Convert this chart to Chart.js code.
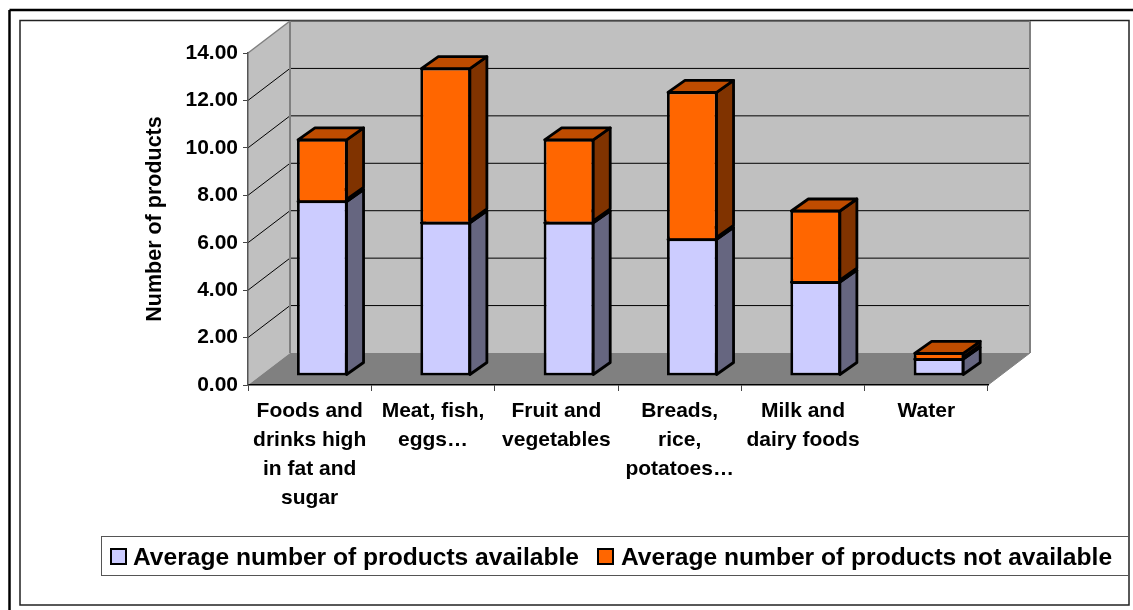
<!DOCTYPE html>
<html>
<head>
<meta charset="utf-8">
<title>Number of products</title>
<script src="https://cdn.jsdelivr.net/npm/chart.js@4/dist/chart.umd.js"></script>
<style>
  html, body { margin: 0; padding: 0; background: #fff; }
  canvas { display: block; }
</style>
</head>
<body>
<canvas id="chart" width="1133" height="610"></canvas>
<script>
// data
const categories = [
    ['Foods and', 'drinks high', 'in fat and', 'sugar'],
    ['Meat, fish,', 'eggs…'],
    ['Fruit and', 'vegetables'],
    ['Breads,', 'rice,', 'potatoes…'],
    ['Milk and', 'dairy foods'],
    ['Water']
];
const available = [7.4, 6.5, 6.5, 5.8, 4, 0.75];
const notAvailable = [2.6, 6.5, 3.5, 6.2, 3, 0.25];
const availableLabel = 'Average number of products available';
const notAvailableLabel = 'Average number of products not available';
const yTitle = 'Number of products';

const FONT = '"Liberation Sans", Arial, sans-serif';

// fake 3D: offsets in pixels
const wall = {dx: 42, dy: -32};
const shift = {dx: 12.6, dy: -9};
const depth = {dx: 17, dy: -12};

function poly(ctx, pts, fill, stroke, lw) {
    ctx.beginPath();
    pts.forEach((p, i) => i ? ctx.lineTo(p[0], p[1]) : ctx.moveTo(p[0], p[1]));
    ctx.closePath();
    if (fill) { ctx.fillStyle = fill; ctx.fill(); }
    if (stroke) { ctx.strokeStyle = stroke; ctx.lineWidth = lw; ctx.stroke(); }
}

function line(ctx, x1, y1, x2, y2, color, lw) {
    ctx.beginPath();
    ctx.moveTo(x1, y1);
    ctx.lineTo(x2, y2);
    ctx.strokeStyle = color;
    ctx.lineWidth = lw;
    ctx.stroke();
}

// frames, walls, floor and gridlines
const backdrop = {
    id: 'backdrop',
    beforeDraw(chart) {
        const ctx = chart.ctx;
        const y = chart.scales.y;
        const a = chart.chartArea;
        const y0 = y.getPixelForValue(0);
        const yMax = y.getPixelForValue(14);
        ctx.save();
        ctx.fillStyle = '#fff';
        ctx.fillRect(0, 0, chart.width, chart.height);

        // outer and inner frame
        line(ctx, 9.5, 10, 1133, 10, '#000', 2.5);
        line(ctx, 9.5, 10, 9.5, 610, '#000', 2.5);
        ctx.strokeStyle = '#222';
        ctx.lineWidth = 1.5;
        ctx.strokeRect(20, 20.5, 1109, 584.5);

        // back wall, left wall, floor
        poly(ctx, [[a.left + wall.dx, yMax + wall.dy], [a.right + wall.dx, yMax + wall.dy],
            [a.right + wall.dx, y0 + wall.dy], [a.left + wall.dx, y0 + wall.dy]], '#c0c0c0');
        poly(ctx, [[a.left, yMax], [a.left + wall.dx, yMax + wall.dy],
            [a.left + wall.dx, y0 + wall.dy], [a.left, y0]], '#c0c0c0');
        poly(ctx, [[a.left, y0], [a.left + wall.dx, y0 + wall.dy],
            [a.right + wall.dx, y0 + wall.dy], [a.right, y0]], '#808080');

        // gridlines, back wall and left wall
        y.ticks.forEach(t => {
            if (t.value === 0 || t.value === 14) return;
            const py = y.getPixelForValue(t.value);
            line(ctx, a.left, py, a.left + wall.dx, py + wall.dy, '#000', 1);
            line(ctx, a.left + wall.dx, py + wall.dy, a.right + wall.dx, py + wall.dy, '#000', 1);
        });

        // wall edges
        line(ctx, a.left, yMax, a.left + wall.dx, yMax + wall.dy, '#808080', 1.5);
        line(ctx, a.left + wall.dx, yMax + wall.dy, a.right + wall.dx, yMax + wall.dy, '#555', 1.5);
        line(ctx, a.left + wall.dx, yMax + wall.dy, a.left + wall.dx, y0 + wall.dy, '#808080', 2);
        line(ctx, a.right + wall.dx, yMax + wall.dy, a.right + wall.dx, y0 + wall.dy, '#808080', 2);
        line(ctx, a.right, y0, a.right + wall.dx, y0 + wall.dy, '#808080', 1);
        ctx.restore();
    },
    // sides and tops go under the fronts that Chart.js draws itself
    beforeDatasetsDraw(chart) {
        const ctx = chart.ctx;
        ctx.save();
        ctx.translate(shift.dx, shift.dy);
        ctx.lineJoin = 'round';
        chart.data.datasets.forEach((ds, i) => {
            chart.getDatasetMeta(i).data.forEach(bar => {
                const r = bar.x + bar.width / 2 - 1;
                const l = bar.x - bar.width / 2 + 1;
                const t = bar.y + 1;
                const b = bar.base - 1;
                poly(ctx, [[r, t], [r + depth.dx, t + depth.dy], [r + depth.dx, b + depth.dy], [r, b]],
                    ds.sideColor, '#000', 2.8);
                poly(ctx, [[l, t], [l + depth.dx, t + depth.dy], [r + depth.dx, t + depth.dy], [r, t]],
                    ds.topColor, '#000', 2.8);
            });
        });
    },
    afterDatasetsDraw(chart) {
        chart.ctx.restore();
    },
    // legend box, runs into the inner frame on the right
    afterDraw(chart) {
        const ctx = chart.ctx;
        ctx.save();
        ctx.fillStyle = '#fff';
        ctx.strokeStyle = '#555';
        ctx.lineWidth = 1;
        ctx.fillRect(101.5, 536.5, 1027, 39);
        ctx.strokeRect(101.5, 536.5, 1027, 39);
        ctx.font = 'bold 24.6px ' + FONT;
        ctx.textBaseline = 'middle';
        const slots = [{box: 111, text: 133}, {box: 598, text: 621}];
        chart.data.datasets.forEach((ds, i) => {
            ctx.fillStyle = ds.backgroundColor;
            ctx.fillRect(slots[i].box, 549, 15, 15);
            ctx.strokeStyle = '#000';
            ctx.lineWidth = 2;
            ctx.strokeRect(slots[i].box, 549, 15, 15);
            ctx.fillStyle = '#000';
            ctx.fillText(ds.label, slots[i].text, 558);
        });
        ctx.restore();
    }
};

new Chart(document.getElementById('chart'), {
    type: 'bar',
    data: {
        labels: categories,
        datasets: [{
            label: availableLabel,
            data: available,
            backgroundColor: '#ccccff',
            sideColor: '#666680',
            topColor: '#9999bf',
            borderColor: '#000',
            borderWidth: 2.8,
            borderSkipped: false,
            clip: false
        }, {
            label: notAvailableLabel,
            data: notAvailable,
            backgroundColor: '#ff6600',
            sideColor: '#803300',
            topColor: '#bf4c00',
            borderColor: '#000',
            borderWidth: 2.8,
            borderSkipped: 'bottom',
            clip: false
        }]
    },
    options: {
        responsive: false,
        animation: false,
        categoryPercentage: 1,
        barPercentage: 0.41,
        layout: {padding: {left: 0, right: 145, top: 53, bottom: 0}},
        plugins: {legend: {display: false}, tooltip: {enabled: false}},
        scales: {
            x: {
                stacked: true,
                afterFit: s => { s.height = 225; },
                border: {color: '#000', width: 1.5},
                grid: {drawOnChartArea: false, tickLength: 6, color: '#444'},
                ticks: {
                    color: '#000',
                    padding: 6,
                    maxRotation: 0,
                    autoSkip: false,
                    font: {family: FONT, size: 21, weight: 'bold', lineHeight: 1.38}
                }
            },
            y: {
                stacked: true,
                min: 0,
                max: 14,
                afterFit: s => { s.width = 248; },
                border: {color: '#555', width: 1.5},
                grid: {drawOnChartArea: false, tickLength: 5, color: '#444'},
                title: {
                    display: true,
                    text: yTitle,
                    color: '#000',
                    padding: {top: 142, bottom: 0},
                    font: {family: FONT, size: 21.5, weight: 'bold'}
                },
                ticks: {
                    stepSize: 2,
                    color: '#000',
                    padding: 5,
                    callback: v => v.toFixed(2),
                    font: {family: FONT, size: 21, weight: 'bold'}
                }
            }
        }
    },
    plugins: [backdrop]
});
</script>
</body>
</html>
